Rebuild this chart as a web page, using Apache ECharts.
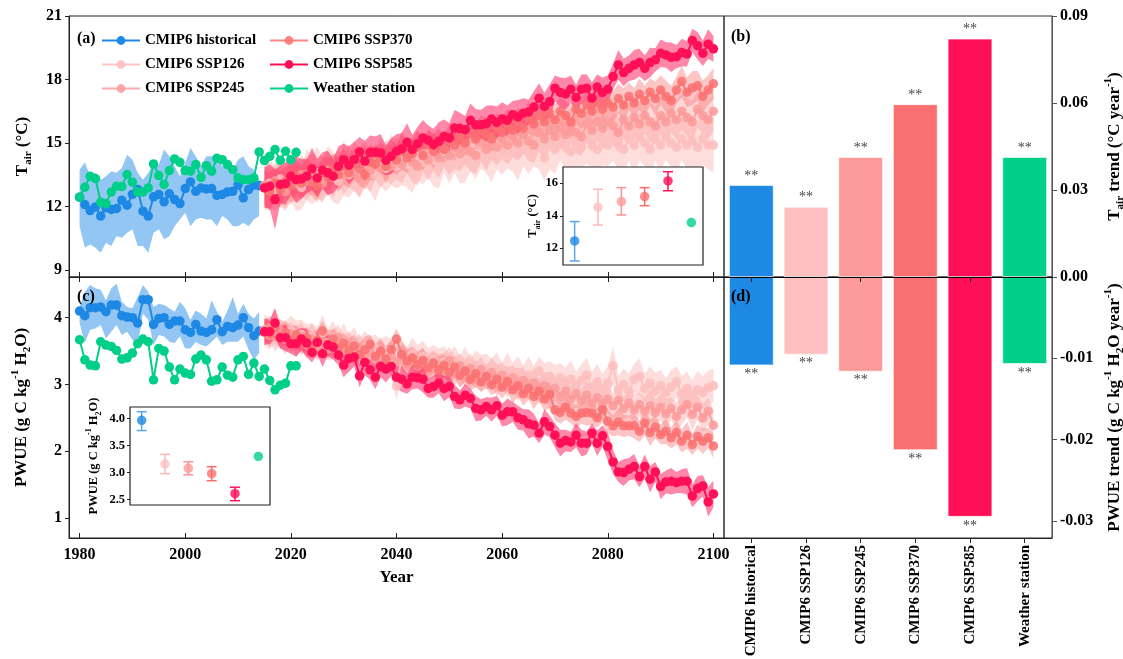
<!DOCTYPE html>
<html><head><meta charset="utf-8">
<script src="https://cdn.jsdelivr.net/npm/echarts@6/dist/echarts.min.js"></script>
<style>html,body{margin:0;padding:0;background:#fff}#c{width:1123px;height:659px}</style>
</head><body><div id="c"></div>
<script>
const FONT = '"Liberation Serif","Times New Roman",serif';
const histStart = 1980, stationStart = 1980, sspStart = 2015;
const yearTicks = [1980, 2000, 2020, 2040, 2060, 2080, 2100];
const tairTicks = [9, 12, 15, 18, 21];
const pwueTicks = [1, 2, 3, 4];

// ---- Tair (°C) ----
const histTair = [12.44,12.09,11.81,11.98,11.55,11.94,11.86,11.91,12.30,12.06,
  12.57,12.80,11.78,11.55,12.46,12.57,12.22,12.60,12.33,12.14,
  12.85,13.16,12.72,12.88,12.83,12.85,12.52,12.57,12.69,12.72,
  13.02,12.41,12.80,13.01,12.99];
const histTairLo = [11.07,10.05,10.21,10.05,9.82,10.29,10.13,10.60,10.52,10.76,
  10.92,10.13,10.13,9.82,10.76,10.92,10.45,10.60,11.07,11.39,
  11.70,11.07,11.39,11.47,11.39,11.39,11.07,11.55,11.39,11.07,
  11.07,11.23,11.07,11.39,11.55];
const histTairHi = [13.74,14.09,13.43,13.59,13.27,13.43,13.67,13.59,13.82,14.45,
  14.21,13.59,13.27,13.59,14.06,13.98,14.69,14.37,13.90,13.43,
  14.06,14.76,14.37,13.90,14.37,14.37,14.37,13.90,13.90,13.74,
  14.21,14.37,13.90,13.74,13.27];
const stationTair = [12.44,12.91,13.43,13.32,12.20,12.14,12.68,12.96,12.94,13.51,
  13.15,12.68,12.68,12.88,14.01,13.46,13.04,13.70,14.25,14.09,
  13.70,13.67,13.98,13.38,13.93,13.67,14.28,14.21,13.98,13.74,
  13.35,13.27,13.27,13.35,14.58,14.17,14.37,14.69,14.18,14.61,
  14.21,14.56];
const ssp126Tair = [12.9,13.1,12.8,13.3,13.0,13.4,13.1,12.9,13.5,13.2,
  13.6,13.3,13.7,13.4,13.2,13.8,13.5,13.9,13.6,14.0,
  13.7,13.5,14.1,13.8,14.2,13.9,14.3,14.0,13.8,14.4,
  14.1,14.5,14.2,14.0,14.6,14.3,14.7,14.4,14.2,14.8,
  14.5,14.9,14.6,14.4,14.9,14.6,15.0,14.7,14.5,15.0,
  14.7,15.1,14.8,14.3,15.0,14.7,15.2,14.9,14.6,15.1,
  14.8,15.2,14.9,14.7,15.2,14.9,15.3,15.0,14.7,15.2,
  14.9,15.3,15.0,14.7,15.2,14.9,15.3,15.0,14.8,15.2,
  14.9,15.1,14.8,15.2,14.9,14.9];
const ssp245Tair = [13.0,12.8,13.2,13.0,12.7,13.3,13.1,13.5,13.2,13.6,
  13.3,13.1,13.7,13.4,13.8,13.5,13.9,13.6,13.4,14.0,
  13.7,14.1,13.8,14.2,13.9,14.3,14.0,14.4,14.1,13.9,
  14.5,14.2,14.6,14.3,14.7,14.4,14.8,14.5,14.9,14.6,
  14.4,15.0,14.7,15.1,14.8,15.2,14.9,15.3,15.0,15.4,
  15.1,14.9,15.5,15.2,15.6,15.3,15.7,15.4,15.8,15.5,
  15.3,15.9,15.6,16.0,15.7,16.0,15.8,15.5,16.1,15.8,
  16.2,15.9,16.3,16.0,15.8,16.3,16.0,16.4,16.1,16.5,
  16.2,16.0,16.6,16.3,16.1,16.5];
const ssp370Tair = [12.9,12.7,13.1,12.8,13.2,13.0,13.4,13.1,13.5,13.2,
  13.0,13.6,13.4,13.8,13.5,13.9,13.6,14.0,13.8,13.5,
  14.1,14.0,14.3,13.9,14.4,14.2,14.6,14.3,14.5,14.8,
  14.4,14.9,14.6,15.0,14.7,15.1,14.9,15.3,15.0,15.5,
  15.2,15.6,15.4,15.2,15.7,15.5,15.9,15.6,16.0,15.7,
  16.2,15.9,16.3,16.0,16.4,16.1,16.5,16.3,16.0,16.6,
  16.4,16.8,16.5,16.9,16.6,16.9,16.7,17.1,16.8,17.2,
  16.9,17.3,17.0,17.4,17.1,17.5,17.2,17.0,17.5,17.9,
  17.4,17.6,17.7,17.2,17.5,17.8];
const ssp585Tair = [12.88,12.96,12.33,13.04,13.08,13.43,13.27,13.30,13.43,13.78,
  13.35,13.71,13.59,13.43,13.90,14.21,13.95,14.21,14.58,14.14,
  14.56,14.56,14.53,14.18,14.37,14.61,14.72,15.03,14.69,14.97,
  15.24,15.13,14.92,15.08,15.31,15.24,15.71,15.68,15.63,16.07,
  15.86,15.86,15.91,16.13,15.97,16.13,16.07,16.34,16.23,16.41,
  16.46,16.70,17.12,16.73,16.96,17.59,17.39,17.32,17.54,17.15,
  17.54,17.59,17.12,17.64,17.39,17.54,18.14,18.69,18.33,18.53,
  18.69,18.80,18.53,18.80,18.93,19.24,19.16,19.05,19.08,19.27,
  19.21,19.84,19.60,19.24,19.67,19.45];
// model spread (half-width of shaded band)
const ssp126TairSd = [1.10,1.20,1.00,1.25,1.10,1.15,1.30,1.05,1.20,1.10,
  1.25,1.00,1.15,1.20,1.10,1.30,1.05,1.15,1.20,1.10,
  1.00,1.25,1.15,1.10,1.20,1.05,1.30,1.10,1.15,1.20,
  1.05,1.10,1.25,1.15,1.00,1.20,1.10,1.30,1.05,1.15,
  1.20,1.10,1.00,1.25,1.15,1.10,1.20,1.05,1.30,1.10,
  1.15,1.20,1.05,1.10,1.25,1.15,1.00,1.20,1.10,1.30,
  1.05,1.15,1.20,1.10,1.25,1.00,1.15,1.20,1.10,1.05,
  1.30,1.15,1.10,1.20,1.05,1.25,1.10,1.15,1.20,1.00,
  1.15,1.25,1.10,1.20,1.15,1.30];
const ssp245TairSd = [0.90,1.00,0.85,0.95,0.90,1.05,0.85,0.95,0.90,1.00,
  0.85,0.95,0.90,1.00,0.85,0.90,1.00,0.85,0.95,0.90,
  1.00,0.85,0.90,0.95,0.85,1.00,0.90,0.85,0.95,0.90,
  0.85,1.00,0.90,0.95,0.85,0.90,1.00,0.85,0.90,0.95,
  0.85,0.90,1.00,0.90,0.85,0.95,0.90,1.00,0.85,0.90,
  0.95,0.85,0.90,1.00,0.90,0.85,0.95,0.90,0.85,1.00,
  0.90,0.85,0.95,0.90,1.00,0.85,0.90,0.95,0.85,0.90,
  1.00,0.90,0.85,0.95,0.90,0.85,1.00,0.90,0.95,0.85,
  0.90,1.00,0.85,0.95,0.90,0.95];
const ssp370TairSd = [0.80,0.90,0.75,0.85,0.70,0.90,0.80,0.75,0.85,0.70,
  0.80,0.75,0.90,0.70,0.80,0.85,0.70,0.75,0.80,0.70,
  0.85,0.75,0.70,0.80,0.75,0.70,0.85,0.70,0.75,0.80,
  0.70,0.75,0.80,0.70,0.65,0.80,0.75,0.70,0.80,0.65,
  0.75,0.70,0.80,0.65,0.70,0.75,0.70,0.80,0.65,0.70,
  0.75,0.70,0.65,0.80,0.70,0.75,0.65,0.70,0.80,0.70,
  0.75,0.65,0.70,0.80,0.70,0.65,0.75,0.70,0.80,0.65,
  0.70,0.75,0.70,0.65,0.80,0.70,0.75,0.70,0.65,0.75,
  0.70,0.80,0.70,0.75,0.70,0.75];
const ssp585TairSd = [0.95,1.05,1.40,0.90,1.00,0.85,1.10,0.95,0.80,1.00,
  0.90,0.85,1.05,0.80,0.95,0.75,0.90,0.85,0.70,0.95,
  0.80,0.75,0.90,0.70,0.85,0.80,0.75,0.90,0.70,0.80,
  0.85,0.70,0.75,0.90,0.80,0.70,0.85,0.75,0.65,0.80,
  0.75,0.70,0.85,0.65,0.75,0.80,0.70,0.65,0.80,0.70,
  0.60,0.75,0.70,0.65,0.80,0.60,0.70,0.75,0.65,0.60,
  0.70,0.65,0.75,0.60,0.70,0.65,0.60,0.70,0.65,0.60,
  0.70,0.65,0.60,0.70,0.55,0.65,0.60,0.70,0.55,0.65,
  0.60,0.55,0.65,0.60,0.70,0.60];

// ---- PWUE (g C kg-1 H2O) ----
const histPwue = [4.10,4.03,4.15,4.15,4.16,4.09,4.19,4.19,4.03,4.01,
  4.00,3.92,4.27,4.27,3.90,3.99,4.00,3.90,3.95,3.95,
  3.82,3.78,3.90,3.80,3.78,3.82,3.97,3.79,3.87,3.85,
  3.89,4.00,3.85,3.73,3.80];
const histPwueLo = [3.92,3.62,3.82,3.84,3.89,3.69,3.79,3.89,3.74,3.79,
  3.67,3.59,4.06,3.97,3.59,3.74,3.72,3.64,3.62,3.72,
  3.54,3.54,3.64,3.59,3.57,3.64,3.72,3.59,3.64,3.64,
  3.64,3.72,3.52,3.37,3.47];
const histPwueHi = [4.16,4.39,4.49,4.44,4.42,4.26,4.44,4.51,4.24,4.16,
  4.14,4.31,4.49,4.39,4.16,4.21,4.19,4.14,4.09,4.24,
  4.14,3.97,4.11,4.06,3.99,4.26,4.09,3.94,4.11,4.31,
  4.06,4.21,4.06,3.99,4.09];
const stationPwue = [3.67,3.37,3.29,3.28,3.64,3.59,3.57,3.51,3.38,3.40,
  3.47,3.61,3.68,3.64,3.07,3.54,3.50,3.26,3.07,3.23,
  3.17,3.15,3.38,3.44,3.37,3.05,3.07,3.26,3.14,3.11,
  3.37,3.42,3.15,3.32,3.12,3.23,3.06,2.92,2.99,3.02,
  3.28,3.28];
const ssp126Pwue = [3.82,3.74,3.88,3.76,3.70,3.80,3.68,3.75,3.64,3.72,
  3.60,3.78,3.62,3.70,3.56,3.64,3.52,3.60,3.48,3.56,
  3.45,3.54,3.42,3.50,3.40,2.98,3.40,3.36,3.46,3.32,
  3.42,3.30,3.38,3.26,3.34,3.24,3.32,3.20,3.30,3.18,
  3.26,3.16,3.24,3.14,3.22,3.12,3.20,3.10,3.18,3.06,
  3.14,3.04,3.20,3.06,3.12,3.02,3.10,3.00,3.08,2.98,
  3.06,3.14,2.96,3.04,2.94,3.02,3.28,2.92,3.00,2.90,
  3.08,3.12,2.94,3.02,2.90,2.98,2.88,2.96,3.04,2.86,
  2.94,2.84,2.92,2.88,2.95,2.98];
const ssp245Pwue = [3.78,3.85,3.72,3.80,3.68,3.76,3.65,3.72,3.60,3.68,
  3.56,3.64,3.53,3.60,3.70,3.52,3.58,3.47,3.55,3.44,
  3.50,3.40,3.48,3.37,3.44,3.34,3.42,3.31,3.38,3.28,
  3.35,3.25,3.32,3.22,3.30,3.36,3.20,3.28,3.16,3.24,
  3.14,3.22,3.10,3.18,3.06,3.14,3.02,3.10,2.98,3.06,
  2.95,3.02,2.90,2.98,2.86,2.94,2.82,2.90,2.78,2.86,
  2.76,2.84,2.72,2.80,2.70,2.78,2.68,2.76,2.64,2.72,
  2.62,2.70,2.60,2.68,2.58,2.66,2.56,2.64,2.52,2.62,
  2.70,2.55,2.66,2.50,2.60,2.39];
const ssp370Pwue = [3.80,3.75,3.85,3.72,3.78,3.66,3.74,3.62,3.70,3.58,
  3.66,3.80,3.60,3.68,3.55,3.62,3.50,3.58,3.45,3.52,
  3.60,3.42,3.50,3.38,3.52,3.68,3.45,3.35,3.40,3.30,
  3.36,3.25,3.32,3.22,3.28,3.18,3.26,3.14,3.20,3.08,
  3.16,3.04,3.12,3.00,3.08,2.96,3.04,2.92,2.98,2.86,
  2.94,2.82,2.90,2.78,2.85,2.62,2.58,2.66,2.57,2.52,
  2.57,2.58,2.57,2.50,2.62,2.45,2.38,2.44,2.38,2.38,
  2.38,2.30,2.42,2.28,2.36,2.25,2.30,2.20,2.28,2.15,
  2.24,2.10,2.22,2.15,2.20,2.08];
const ssp585Pwue = [3.79,3.79,3.92,3.70,3.70,3.61,3.61,3.68,3.62,3.48,
  3.63,3.46,3.59,3.56,3.44,3.29,3.39,3.41,3.13,3.33,
  3.22,3.11,3.27,3.23,3.27,3.11,3.08,3.01,3.11,3.10,
  3.08,2.94,2.97,3.02,2.94,2.97,2.82,2.77,2.84,2.79,
  2.64,2.62,2.67,2.62,2.68,2.54,2.59,2.59,2.50,2.47,
  2.41,2.39,2.27,2.44,2.37,2.24,2.12,2.16,2.14,2.24,
  2.12,2.12,2.27,2.12,2.23,2.07,1.84,1.69,1.68,1.73,
  1.77,1.62,1.77,1.58,1.69,1.47,1.54,1.55,1.53,1.55,
  1.55,1.33,1.44,1.48,1.24,1.36];
const ssp126PwueSd = [0.24,0.22,0.27,0.21,0.25,0.23,0.28,0.22,0.26,0.20,
  0.24,0.27,0.22,0.25,0.21,0.28,0.23,0.26,0.22,0.24,
  0.27,0.21,0.25,0.23,0.28,0.22,0.26,0.20,0.24,0.27,
  0.23,0.25,0.21,0.28,0.24,0.22,0.26,0.23,0.27,0.21,
  0.25,0.28,0.22,0.24,0.26,0.21,0.27,0.23,0.25,0.22,
  0.28,0.24,0.21,0.26,0.23,0.27,0.22,0.25,0.28,0.21,
  0.24,0.26,0.23,0.27,0.22,0.25,0.28,0.21,0.24,0.26,
  0.23,0.27,0.22,0.25,0.28,0.24,0.21,0.26,0.23,0.27,
  0.25,0.22,0.28,0.24,0.26,0.25];
const ssp245PwueSd = [0.20,0.18,0.23,0.19,0.21,0.17,0.22,0.20,0.18,0.24,
  0.19,0.21,0.17,0.22,0.20,0.18,0.23,0.19,0.21,0.17,
  0.22,0.20,0.24,0.18,0.21,0.19,0.17,0.23,0.20,0.22,
  0.18,0.21,0.19,0.24,0.17,0.20,0.22,0.18,0.21,0.23,
  0.19,0.20,0.17,0.22,0.24,0.18,0.21,0.19,0.23,0.20,
  0.17,0.22,0.19,0.21,0.24,0.18,0.20,0.23,0.19,0.21,
  0.17,0.22,0.20,0.18,0.24,0.21,0.19,0.23,0.17,0.20,
  0.22,0.18,0.21,0.24,0.19,0.20,0.23,0.17,0.21,0.22,
  0.19,0.24,0.18,0.21,0.20,0.23];
const ssp370PwueSd = [0.16,0.19,0.15,0.18,0.17,0.20,0.15,0.18,0.16,0.19,
  0.17,0.15,0.20,0.16,0.18,0.15,0.19,0.17,0.16,0.20,
  0.15,0.18,0.17,0.19,0.15,0.16,0.20,0.17,0.15,0.18,
  0.19,0.16,0.15,0.20,0.17,0.18,0.15,0.19,0.16,0.17,
  0.20,0.15,0.18,0.16,0.19,0.17,0.15,0.20,0.16,0.18,
  0.17,0.19,0.15,0.18,0.20,0.16,0.17,0.19,0.15,0.18,
  0.16,0.20,0.17,0.15,0.19,0.18,0.16,0.20,0.17,0.15,
  0.19,0.16,0.18,0.20,0.17,0.15,0.19,0.16,0.18,0.17,
  0.20,0.16,0.18,0.19,0.15,0.18];
const ssp585PwueSd = [0.20,0.18,0.22,0.16,0.20,0.15,0.19,0.17,0.21,0.15,
  0.18,0.20,0.16,0.19,0.15,0.18,0.20,0.14,0.17,0.19,
  0.15,0.18,0.16,0.20,0.14,0.17,0.19,0.15,0.18,0.16,
  0.20,0.14,0.17,0.15,0.19,0.16,0.18,0.14,0.17,0.15,
  0.19,0.16,0.14,0.18,0.15,0.17,0.20,0.15,0.18,0.16,
  0.22,0.17,0.15,0.19,0.16,0.18,0.20,0.16,0.15,0.18,
  0.20,0.17,0.15,0.19,0.16,0.21,0.18,0.15,0.20,0.17,
  0.19,0.16,0.18,0.20,0.15,0.19,0.17,0.20,0.16,0.18,
  0.20,0.17,0.19,0.16,0.22,0.20];

// ---- trends (bars) ----
const barCats = ['CMIP6 historical','CMIP6 SSP126','CMIP6 SSP245','CMIP6 SSP370','CMIP6 SSP585','Weather station'];
const tairTrend = [0.0317, 0.0242, 0.0414, 0.0596, 0.0822, 0.0414];
const pwueTrend = [-0.01087, -0.00955, -0.01165, -0.0213, -0.0295, -0.0107];
const signif = ['**','**','**','**','**','**'];

// ---- insets (period means and error bars) ----
const insetTair = [12.45, 14.52, 14.87, 15.18, 16.14, 13.58];
const insetTairLo = [11.22, 13.43, 14.05, 14.62, 15.54, null];
const insetTairHi = [13.64, 15.63, 15.73, 15.73, 16.71, null];
const insetPwue = [3.97, 3.16, 3.08, 2.98, 2.61, 3.30];
const insetPwueLo = [3.78, 2.98, 2.96, 2.85, 2.48, null];
const insetPwueHi = [4.13, 3.34, 3.20, 3.11, 2.73, null];
const insetTairTicks = [12, 14, 16];
const insetPwueTicks = [2.5, 3.0, 3.5, 4.0];

const C = {hist:'#1E88E5', s126:'#FDBFBF', s245:'#FC9A9A', s370:'#FA7070', s585:'#FF1056', st:'#00CF8A'};
const barColors = [C.hist, C.s126, C.s245, C.s370, C.s585, C.st];
const errColors = ['#5AA7EC', '#FCBABA', '#F99494', '#F86C6C', '#FF1056', C.st];

function pairs(start, vals){ return vals.map((v,i)=>[start+i, v]); }
// shaded band drawn as one polygon through the axis scales
function bandLoHi(start, lo, hi, color, xi, yi){
  const data = lo.map((l,i)=>[start+i, l, hi[i]]);
  return {type:'custom', xAxisIndex:xi, yAxisIndex:yi, z:2, silent:true, data, encode:{x:0, y:[1,2]},
    renderItem(params, api){
      if (params.dataIndex !== 0) return null;
      const top = [], bot = [];
      for (let i=0;i<data.length;i++){
        top.push(api.coord([data[i][0], data[i][2]]));
        bot.push(api.coord([data[i][0], data[i][1]]));
      }
      return {type:'polygon', shape:{points: top.concat(bot.reverse())}, style:{fill:color}};
    }};
}
function bandSd(start, mean, sd, color, xi, yi){
  return bandLoHi(start, mean.map((m,i)=>m-sd[i]), mean.map((m,i)=>m+sd[i]), color, xi, yi);
}
function line(name, start, vals, color, xi, yi, z, op){
  return {name, type:'line', xAxisIndex:xi, yAxisIndex:yi, data:pairs(start, vals),
    symbol:'circle', symbolSize:9.5, showSymbol:true, showAllSymbol:true,
    lineStyle:{color, width:2, opacity:op}, itemStyle:{color, opacity:op}, z};
}
const bold = {fontFamily:FONT, fontWeight:'bold', color:'#000'};
function rich(fs, sfs){
  return {
    n:{fontSize:fs, fontWeight:'bold', fontFamily:FONT, color:'#000', lineHeight:fs+6},
    sub:{fontSize:sfs, fontWeight:'bold', fontFamily:FONT, color:'#000', lineHeight:sfs, verticalAlign:'bottom'},
    sup:{fontSize:sfs, fontWeight:'bold', fontFamily:FONT, color:'#000', lineHeight:sfs, verticalAlign:'top'}
  };
}

const series = [];
// top-left bands
series.push(bandLoHi(histStart, histTairLo, histTairHi, 'rgba(30,136,229,0.48)', 0, 0));
series.push(bandSd(sspStart, ssp126Tair, ssp126TairSd, 'rgba(253,180,180,0.45)', 0, 0));
series.push(bandSd(sspStart, ssp245Tair, ssp245TairSd, 'rgba(252,150,150,0.38)', 0, 0));
series.push(bandSd(sspStart, ssp370Tair, ssp370TairSd, 'rgba(250,105,105,0.38)', 0, 0));
series.push(bandSd(sspStart, ssp585Tair, ssp585TairSd, 'rgba(255,16,86,0.5)', 0, 0));
series.push(line('CMIP6 historical', histStart, histTair, C.hist, 0, 0, 3, 1));
series.push(line('CMIP6 SSP126', sspStart, ssp126Tair, C.s126, 0, 0, 3, 0.9));
series.push(line('CMIP6 SSP245', sspStart, ssp245Tair, C.s245, 0, 0, 3, 0.85));
series.push(line('CMIP6 SSP370', sspStart, ssp370Tair, C.s370, 0, 0, 3, 0.85));
series.push(line('CMIP6 SSP585', sspStart, ssp585Tair, C.s585, 0, 0, 3, 1));
series.push(line('Weather station', stationStart, stationTair, C.st, 0, 0, 4, 1));
// bottom-left bands
series.push(bandLoHi(histStart, histPwueLo, histPwueHi, 'rgba(30,136,229,0.48)', 1, 1));
series.push(bandSd(sspStart, ssp126Pwue, ssp126PwueSd, 'rgba(253,180,180,0.45)', 1, 1));
series.push(bandSd(sspStart, ssp245Pwue, ssp245PwueSd, 'rgba(252,150,150,0.38)', 1, 1));
series.push(bandSd(sspStart, ssp370Pwue, ssp370PwueSd, 'rgba(250,105,105,0.38)', 1, 1));
series.push(bandSd(sspStart, ssp585Pwue, ssp585PwueSd, 'rgba(255,16,86,0.5)', 1, 1));
series.push(line('CMIP6 historical', histStart, histPwue, C.hist, 1, 1, 3, 1));
series.push(line('CMIP6 SSP126', sspStart, ssp126Pwue, C.s126, 1, 1, 3, 0.9));
series.push(line('CMIP6 SSP245', sspStart, ssp245Pwue, C.s245, 1, 1, 3, 0.85));
series.push(line('CMIP6 SSP370', sspStart, ssp370Pwue, C.s370, 1, 1, 3, 0.85));
series.push(line('CMIP6 SSP585', sspStart, ssp585Pwue, C.s585, 1, 1, 3, 1));
series.push(line('Weather station', stationStart, stationPwue, C.st, 1, 1, 4, 1));

// bars
const starLabel = {show:true, formatter:(p)=>signif[p.dataIndex], color:'#444', fontSize:14, fontFamily:FONT, distance:2};
series.push({name:'tairTrend', type:'bar', xAxisIndex:3, yAxisIndex:2, barWidth:'82%',
  data: tairTrend.map((v,i)=>({value:v, itemStyle:{color:barColors[i], borderColor:'rgba(255,255,255,0.6)', borderWidth:1}})),
  label:Object.assign({position:'top'}, starLabel), z:2});
series.push({name:'pwueTrend', type:'bar', xAxisIndex:4, yAxisIndex:3, barWidth:'82%',
  data: pwueTrend.map((v,i)=>({value:v, itemStyle:{color:barColors[i], borderColor:'rgba(255,255,255,0.6)', borderWidth:1}})),
  label:Object.assign({position:'bottom'}, starLabel), z:2});

// insets
function errSeries(xi, yi, lo, hi){
  const d = [];
  lo.forEach((l,i)=>{ if(l!=null) d.push([i, l, hi[i]]); });
  return {type:'custom', xAxisIndex:xi, yAxisIndex:yi, z:12, data:d, encode:{x:0, y:[1,2]},
    renderItem(params, api){
      const x = api.value(0);
      const a = api.coord([x, api.value(1)]), b = api.coord([x, api.value(2)]);
      const c = errColors[x], w = 5, st = {stroke:c, lineWidth:1.5};
      return {type:'group', children:[
        {type:'line', shape:{x1:a[0],y1:a[1],x2:b[0],y2:b[1]}, style:st},
        {type:'line', shape:{x1:a[0]-w,y1:a[1],x2:a[0]+w,y2:a[1]}, style:st},
        {type:'line', shape:{x1:b[0]-w,y1:b[1],x2:b[0]+w,y2:b[1]}, style:st}]};
    }};
}
series.push(errSeries(5, 4, insetTairLo, insetTairHi));
series.push(errSeries(6, 5, insetPwueLo, insetPwueHi));
series.push({type:'scatter', xAxisIndex:5, yAxisIndex:4, z:13, symbolSize:9.5,
  data: insetTair.map((v,i)=>({value:[i,v], itemStyle:{color:barColors[i]}}))});
series.push({type:'scatter', xAxisIndex:6, yAxisIndex:5, z:13, symbolSize:9.5,
  data: insetPwue.map((v,i)=>({value:[i,v], itemStyle:{color:barColors[i]}}))});

const lineAx = {show:true, lineStyle:{color:'#222', width:1}};
const mainLbl = Object.assign({fontSize:16}, bold);
const legText = Object.assign({fontSize:15}, bold);
const G = {outerBoundsMode:'none', containLabel:false};

const option = {
  animation:false,
  backgroundColor:'#fff',
  textStyle:{fontFamily:FONT},
  legend:[
    {data:['CMIP6 historical','CMIP6 SSP126','CMIP6 SSP245'], orient:'vertical', left:101, top:33, padding:0,
     itemWidth:38, itemHeight:11, itemGap:9, textStyle:legText, selectedMode:false},
    {data:['CMIP6 SSP370','CMIP6 SSP585','Weather station'], orient:'vertical', left:269, top:33, padding:0,
     itemWidth:38, itemHeight:11, itemGap:9, textStyle:legText, selectedMode:false}
  ],
  grid:[
    Object.assign({left:69, top:16, width:655, height:261, show:true, borderColor:'#222', borderWidth:1}, G),
    Object.assign({left:69, top:277, width:655, height:261, show:true, borderColor:'#222', borderWidth:1}, G),
    Object.assign({left:724, top:16, width:328, height:261, show:true, borderColor:'#333', borderWidth:1}, G),
    Object.assign({left:724, top:277, width:328, height:261, show:true, borderColor:'#333', borderWidth:1}, G),
    Object.assign({left:563, top:167, width:140, height:98, show:true, backgroundColor:'#fff', borderColor:'#222', borderWidth:1.2, z:10}, G),
    Object.assign({left:130, top:407, width:140, height:98, show:true, backgroundColor:'#fff', borderColor:'#222', borderWidth:1.2, z:10}, G)
  ],
  xAxis:[
    {gridIndex:0, type:'value', min:1978, max:2102, position:'bottom', splitLine:{show:false}, axisLine:lineAx,
     axisTick:{show:true, inside:true, length:5, customValues:yearTicks, lineStyle:{color:'#222'}}, axisLabel:{show:false}},
    {gridIndex:1, type:'value', min:1978, max:2102, position:'bottom', splitLine:{show:false}, axisLine:lineAx,
     axisTick:{show:true, inside:true, length:5, customValues:yearTicks, lineStyle:{color:'#222'}},
     axisLabel:Object.assign({customValues:yearTicks, margin:9, formatter:(v)=>String(v)}, mainLbl),
     name:'Year', nameLocation:'middle', nameGap:31, nameTextStyle:Object.assign({fontSize:17}, bold)},
    {gridIndex:1, type:'value', min:1978, max:2102, position:'top', splitLine:{show:false}, axisLine:lineAx,
     axisTick:{show:true, inside:true, length:5, customValues:yearTicks, lineStyle:{color:'#222'}}, axisLabel:{show:false}},
    {gridIndex:2, type:'category', data:barCats, position:'bottom', z:5, axisLine:{show:true, lineStyle:{color:'#000', width:1}},
     axisTick:{show:true, alignWithLabel:true, length:5, lineStyle:{color:'#222'}}, axisLabel:{show:false}},
    {gridIndex:3, type:'category', data:barCats, position:'bottom', z:5, axisLine:{show:true, onZero:false, lineStyle:{color:'#222', width:1}},
     axisTick:{show:true, alignWithLabel:true, length:5, lineStyle:{color:'#222'}},
     axisLabel:Object.assign({rotate:90, margin:7, interval:0, fontSize:15}, bold)},
    {gridIndex:4, type:'category', data:barCats, z:11, axisLine:{show:false}, axisTick:{show:false}, axisLabel:{show:false}},
    {gridIndex:5, type:'category', data:barCats, z:11, axisLine:{show:false}, axisTick:{show:false}, axisLabel:{show:false}}
  ],
  yAxis:[
    {gridIndex:0, type:'value', min:8.67, max:21, splitLine:{show:false}, axisLine:lineAx,
     axisTick:{show:true, length:4, customValues:tairTicks, lineStyle:{color:'#222'}},
     axisLabel:Object.assign({customValues:tairTicks, margin:7}, mainLbl),
     name:'{n|T}{sub|air}{n| (°C)}', nameLocation:'middle', nameGap:35,
     nameTextStyle:{rich:rich(17, 11)}},
    {gridIndex:1, type:'value', min:0.70, max:4.61, splitLine:{show:false}, axisLine:lineAx,
     axisTick:{show:true, length:4, customValues:pwueTicks, lineStyle:{color:'#222'}},
     axisLabel:Object.assign({customValues:pwueTicks, margin:7}, mainLbl),
     name:'{n|PWUE (g C kg}{sup|-1}{n| H}{sub|2}{n|O)}', nameLocation:'middle', nameGap:36,
     nameTextStyle:{rich:rich(17, 11)}},
    {gridIndex:2, type:'value', position:'right', min:0, max:0.09, interval:0.03, splitLine:{show:false},
     axisLine:{show:true, lineStyle:{color:'#555', width:1}},
     axisTick:{show:true, length:5, lineStyle:{color:'#555'}},
     axisLabel:Object.assign({margin:8, formatter:(v)=>v.toFixed(2)}, mainLbl),
     name:'{n|T}{sub|air}{n| trend (°C year}{sup|-1}{n|)}', nameLocation:'middle', nameGap:51,
     nameTextStyle:{rich:rich(17, 11)}},
    {gridIndex:3, type:'value', position:'right', min:-0.0321, max:0, splitLine:{show:false},
     axisLine:{show:true, lineStyle:{color:'#555', width:1}},
     axisTick:{show:true, length:5, customValues:[-0.03,-0.02,-0.01], lineStyle:{color:'#555'}},
     axisLabel:Object.assign({margin:8, customValues:[-0.03,-0.02,-0.01], formatter:(v)=>v.toFixed(2)}, mainLbl),
     name:'{n|PWUE trend (g C kg}{sup|-1}{n| H}{sub|2}{n|O year}{sup|-1}{n|)}', nameLocation:'middle', nameGap:51,
     nameTextStyle:{rich:rich(17, 11)}},
    {gridIndex:4, type:'value', min:10.97, max:17.0, z:11, splitLine:{show:false}, axisLine:{show:false},
     axisTick:{show:true, length:3, customValues:insetTairTicks, lineStyle:{color:'#222'}},
     axisLabel:Object.assign({customValues:insetTairTicks, margin:5, fontSize:12.5}, bold),
     name:'{n|T}{sub|air}{n| (°C)}', nameLocation:'middle', nameGap:21,
     nameTextStyle:{rich:rich(12.5, 8)}},
    {gridIndex:5, type:'value', min:2.40, max:4.217, z:11, splitLine:{show:false}, axisLine:{show:false},
     axisTick:{show:true, length:3, customValues:insetPwueTicks, lineStyle:{color:'#222'}},
     axisLabel:Object.assign({customValues:insetPwueTicks, margin:5, fontSize:12.5, formatter:(v)=>v.toFixed(1)}, bold),
     name:'{n|PWUE (g C kg}{sup|-1}{n| H}{sub|2}{n|O)}', nameLocation:'middle', nameGap:27,
     nameTextStyle:{rich:rich(12.5, 8)}}
  ],
  graphic:[
    {type:'text', left:77, top:31, z:20, style:{text:'(a)', font:'bold 16px '+FONT, fill:'#000'}},
    {type:'text', left:731, top:29, z:20, style:{text:'(b)', font:'bold 16px '+FONT, fill:'#000'}},
    {type:'text', left:77, top:289, z:20, style:{text:'(c)', font:'bold 16px '+FONT, fill:'#000'}},
    {type:'text', left:731, top:289, z:20, style:{text:'(d)', font:'bold 16px '+FONT, fill:'#000'}}
  ],
  series
};
const chart = echarts.init(document.getElementById('c'), null, {renderer:'canvas'});
chart.setOption(option);
</script></body></html>
